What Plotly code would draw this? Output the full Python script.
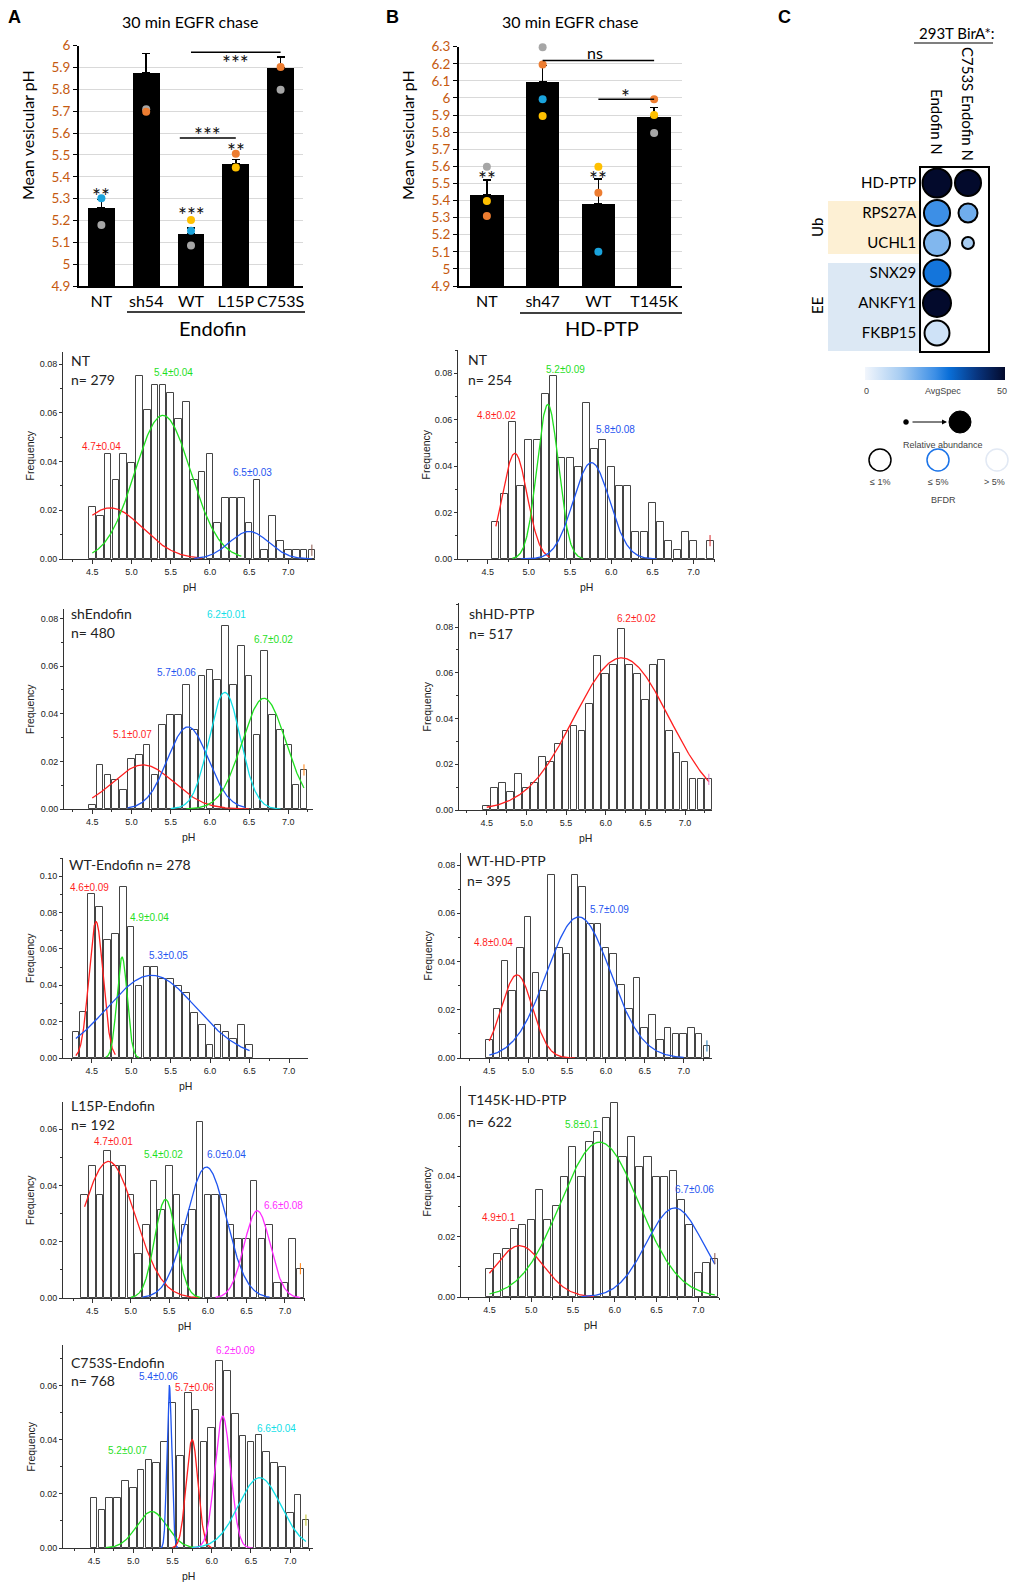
import numpy as np
import plotly.graph_objects as go

W, H = 1010, 1582
FC = "Lato"
FA = "Liberation Sans"

# ---------------- Panel A data ----------------
a_categories = ["NT", "sh54", "WT", "L15P", "C753S"]
a_means = [5.26, 5.875, 5.14, 5.46, 5.90]
a_err = [0.035, 0.09, 0.025, 0.02, 0.048]
a_rep_blue = [5.302, 6.004, 5.153, None, None]
a_rep_grey = [5.179, 5.709, 5.085, None, 5.798]
a_rep_orange = [None, 5.698, None, 5.505, 5.902]
a_rep_yellow = [None, None, 5.202, 5.442, 6.004]
a_yticks = [4.9, 5.0, 5.1, 5.2, 5.3, 5.4, 5.5, 5.6, 5.7, 5.8, 5.9, 6.0]

# ---------------- Panel B data ----------------
b_categories = ["NT", "sh47", "WT", "T145K"]
b_means = [5.435, 6.097, 5.379, 5.892]
b_err = [0.084, 0.093, 0.146, 0.051]
b_rep_grey = [5.597, 6.297, None, 5.795]
b_rep_yellow = [5.398, 5.894, 5.597, 5.90]
b_rep_orange = [5.309, 6.196, 5.445, 5.992]
b_rep_blue = [None, 5.992, 5.10, None]
b_yticks = [4.9, 5.0, 5.1, 5.2, 5.3, 5.4, 5.5, 5.6, 5.7, 5.8, 5.9, 6.0, 6.1, 6.2, 6.3]

# ---------------- Panel C data ----------------
c_proteins = ["HD-PTP", "RPS27A", "UCHL1", "SNX29", "ANKFY1", "FKBP15"]
c_baits = ["Endofin N", "C753S Endofin N"]
c_avgspec_endofin = [50, 25, 17, 29, 50, 6]
c_avgspec_c753s = [50, 19, 12.5, None, None, None]
c_relabund_endofin = [0.95, 0.82, 0.82, 0.86, 0.91, 0.77]
c_relabund_c753s = [0.82, 0.50, 0.18, None, None, None]

# ---------------- Histogram data (bin centres, frequency) ----------------
bins_45_73 = [4.5, 4.6, 4.7, 4.8, 4.9, 5.0, 5.1, 5.2, 5.3, 5.4, 5.5, 5.6, 5.7, 5.8, 5.9,
              6.0, 6.1, 6.2, 6.3, 6.4, 6.5, 6.6, 6.7, 6.8, 6.9, 7.0, 7.1, 7.2, 7.3]
bins_45_72 = [4.5, 4.6, 4.7, 4.8, 4.9, 5.0, 5.1, 5.2, 5.3, 5.4, 5.5, 5.6, 5.7, 5.8, 5.9,
              6.0, 6.1, 6.2, 6.3, 6.4, 6.5, 6.6, 6.7, 6.8, 6.9, 7.0, 7.1, 7.2]
bins_46_72 = [4.6, 4.7, 4.8, 4.9, 5.0, 5.1, 5.2, 5.3, 5.4, 5.5, 5.6, 5.7, 5.8, 5.9,
              6.0, 6.1, 6.2, 6.3, 6.4, 6.5, 6.6, 6.7, 6.8, 6.9, 7.0, 7.1, 7.2]
bins_43_65 = [4.3, 4.4, 4.5, 4.6, 4.7, 4.8, 4.9, 5.0, 5.1, 5.2, 5.3, 5.4, 5.5, 5.6, 5.7,
              5.8, 5.9, 6.0, 6.1, 6.2, 6.3, 6.4, 6.5]
bins_44_72 = [4.4, 4.5, 4.6, 4.7, 4.8, 4.9, 5.0, 5.1, 5.2, 5.3, 5.4, 5.5, 5.6, 5.7, 5.8,
              5.9, 6.0, 6.1, 6.2, 6.3, 6.4, 6.5, 6.6, 6.7, 6.8, 6.9, 7.0, 7.1, 7.2]

freq_nt_endofin = [0.0215, 0.0178, 0.043, 0.0323, 0.043, 0.0393, 0.0752, 0.061, 0.0715, 0.0715,
                   0.068, 0.0574, 0.0644, 0.0323, 0.0359, 0.043, 0.0147, 0.0252, 0.0252, 0.0252,
                   0.0147, 0.0323, 0.0036, 0.0178, 0.0073, 0.0036, 0.0036, 0.0036, 0.0036]
freq_sh_endofin = [0.0017, 0.0185, 0.0143, 0.0122, 0.0081, 0.0208, 0.0227, 0.0268, 0.0143, 0.0352,
                   0.0396, 0.0396, 0.0519, 0.0331, 0.056, 0.0582, 0.054, 0.0769, 0.0519, 0.0686,
                   0.056, 0.0312, 0.0665, 0.0396, 0.0331, 0.0268, 0.0102, 0.0164]
freq_wt_endofin = [0.0143, 0.0254, 0.0901, 0.0829, 0.0647, 0.0684, 0.0938, 0.0721, 0.0395, 0.0502,
                   0.0502, 0.0432, 0.0432, 0.0395, 0.0358, 0.025, 0.018, 0.0074, 0.018, 0.0143,
                   0.0107, 0.018, 0.0074]
freq_l15p_endofin = [0.0365, 0.0469, 0.0365, 0.0521, 0.0469, 0.0469, 0.0365, 0.0156, 0.026, 0.0417,
                     0.0313, 0.0469, 0.0365, 0.026, 0.0313, 0.0625, 0.0365, 0.0365, 0.0365, 0.026,
                     0.0208, 0.0208, 0.0417, 0.0208, 0.026, 0.0052, 0.0052, 0.0208, 0.0104]
freq_c753s_endofin = [0.0183, 0.0142, 0.0183, 0.0183, 0.0247, 0.0223, 0.0288, 0.0325, 0.0313, 0.0391,
                      0.0536, 0.034, 0.0573, 0.0511, 0.0391, 0.0443, 0.069, 0.0653, 0.0495, 0.0412,
                      0.0391, 0.0416, 0.0353, 0.0313, 0.0301, 0.013, 0.0195, 0.0103]
freq_nt_hdptp = [0.0161, 0.0279, 0.0589, 0.0316, 0.0513, 0.0513, 0.071, 0.0789, 0.0434, 0.0434,
                 0.0395, 0.0671, 0.0473, 0.0513, 0.0395, 0.0316, 0.0316, 0.0118, 0.0118, 0.024,
                 0.0161, 0.0079, 0.0039, 0.0118, 0.0079, 0.0, 0.0079]
freq_sh_hdptp = [0.0017, 0.0095, 0.0116, 0.0077, 0.0156, 0.0095, 0.0116, 0.023, 0.0211, 0.0288,
                 0.0346, 0.0367, 0.0346, 0.0465, 0.0673, 0.0596, 0.0636, 0.079, 0.0636, 0.0596,
                 0.0483, 0.0636, 0.0655, 0.0346, 0.025, 0.0211, 0.0134, 0.0134, 0.0134]
freq_wt_hdptp = [0.0076, 0.0203, 0.0404, 0.0278, 0.0456, 0.0583, 0.0354, 0.0278, 0.0758, 0.0456,
                 0.0431, 0.0758, 0.0708, 0.0556, 0.0556, 0.0456, 0.0431, 0.0303, 0.0203, 0.0331,
                 0.0125, 0.0178, 0.0076, 0.0125, 0.01, 0.01, 0.0125, 0.01, 0.005]
freq_t145k_hdptp = [0.0094, 0.0143, 0.016, 0.0224, 0.0239, 0.0256, 0.0353, 0.0256, 0.0303, 0.0399,
                    0.0498, 0.0399, 0.0515, 0.0546, 0.0594, 0.0642, 0.0465, 0.0529, 0.0432, 0.0465,
                    0.0399, 0.0399, 0.0418, 0.032, 0.0239, 0.0079, 0.0112, 0.0127]

# Gaussian fit parameters: (centre, sigma, amplitude, x-from, x-to)
fit_nt_endofin = [(4.73, 0.41, 0.021, 4.5, 5.9), (5.40, 0.357, 0.059, 4.5, 6.4), (6.50, 0.25, 0.0113, 5.8, 7.3)]
fit_sh_endofin = [(5.15, 0.39, 0.0185, 4.5, 6.5), (5.72, 0.26, 0.0345, 4.95, 6.45),
                  (6.19, 0.20, 0.049, 5.5, 6.9), (6.69, 0.28, 0.0465, 5.7, 7.2)]
fit_wt_endofin = [(4.555, 0.09, 0.075, 4.3, 4.8), (4.885, 0.065, 0.0555, 4.68, 5.1), (5.26, 0.565, 0.0455, 4.3, 6.5)]
fit_l15p_endofin = [(4.71, 0.345, 0.0485, 4.4, 5.9), (5.45, 0.14, 0.035, 5.0, 5.9),
                    (5.98, 0.26, 0.0465, 5.15, 6.8), (6.64, 0.17, 0.031, 6.1, 7.2)]
fit_c753s_endofin = [(5.235, 0.19, 0.0135, 4.65, 5.8), (5.46, 0.03, 0.06, 5.35, 5.57),
                     (5.75, 0.075, 0.04, 5.5, 6.0), (6.14, 0.10, 0.0487, 5.75, 6.52),
                     (6.61, 0.27, 0.026, 5.75, 7.2)]
fit_nt_hdptp = [(4.83, 0.15, 0.0455, 4.6, 5.25), (5.23, 0.13, 0.0665, 4.8, 5.66), (5.76, 0.22, 0.0415, 4.9, 6.55)]
fit_sh_hdptp = [(6.2, 0.6, 0.0665, 4.5, 7.3)]
fit_wt_hdptp = [(4.856, 0.2, 0.0345, 4.5, 5.6), (5.65, 0.41, 0.0585, 4.5, 7.0)]
fit_t145k_hdptp = [(4.86, 0.29, 0.017, 4.5, 5.75), (5.82, 0.47, 0.0513, 4.5, 7.2), (6.72, 0.34, 0.0295, 5.6, 7.2)]

fitlabel_nt_endofin = ["4.7±0.04", "5.4±0.04", "6.5±0.03"]
fitlabel_sh_endofin = ["5.1±0.07", "5.7±0.06", "6.2±0.01", "6.7±0.02"]
fitlabel_wt_endofin = ["4.6±0.09", "4.9±0.04", "5.3±0.05"]
fitlabel_l15p_endofin = ["4.7±0.01", "5.4±0.02", "6.0±0.04", "6.6±0.08"]
fitlabel_c753s_endofin = ["5.2±0.07", "5.4±0.06", "5.7±0.06", "6.2±0.09", "6.6±0.04"]
fitlabel_nt_hdptp = ["4.8±0.02", "5.2±0.09", "5.8±0.08"]
fitlabel_sh_hdptp = ["6.2±0.02"]
fitlabel_wt_hdptp = ["4.8±0.04", "5.7±0.09"]
fitlabel_t145k_hdptp = ["4.9±0.1", "5.8±0.1", "6.7±0.06"]

ph_ticks = [4.5, 5.0, 5.5, 6.0, 6.5, 7.0]

# ---------------- styles ----------------
RED, GREEN, BLUE, CYAN, MAG = "#ff1f1f", "#1fe01f", "#1f55f0", "#12e0e8", "#ff2cff"
C_BLUE, C_GREY, C_ORANGE, C_YELLOW = "#1aa3dc", "#a6a6a6", "#ed7d31", "#ffc000"

fig = go.Figure()
L = dict(width=W, height=H, template="none",
         margin=dict(l=0, r=0, t=0, b=0, pad=0, autoexpand=False), paper_bgcolor="white",
         plot_bgcolor="white", showlegend=False)
ann, shp = [], []


def px_x(p):
    return p / W


def px_y(p):
    return 1 - p / H


def names(n):
    return ("x", "y", "xaxis", "yaxis") if n == 1 else (f"x{n}", f"y{n}", f"xaxis{n}", f"yaxis{n}")


def text(x, y, s, size, color="black", family=FC, xref="paper", yref="paper", **kw):
    d = dict(x=x, y=y, text=s, showarrow=False, xref=xref, yref=yref, xanchor="center", yanchor="middle",
             font=dict(family=family, size=size, color=color))
    d.update(kw)
    ann.append(d)


def bar_panel(n, cats, means, errs, reps, box, yr, yticks):
    xa, ya, xk, yk = names(n)
    xs = list(range(len(cats)))
    fig.add_trace(go.Bar(x=xs, y=means, width=0.6, marker=dict(color="black", line=dict(width=0)),
                         error_y=dict(type="data", symmetric=False, array=errs,
                                      arrayminus=[0] * len(errs), color="black", thickness=1.5, width=4),
                         xaxis=xa, yaxis=ya))
    for col, vals in reps:
        fig.add_trace(go.Scatter(x=xs, y=vals, mode="markers", cliponaxis=False,
                                 marker=dict(color=col, size=8, line=dict(width=0)),
                                 xaxis=xa, yaxis=ya))
    x0, y0, x1, y1 = box
    L[xk] = dict(domain=[px_x(x0), px_x(x1)], anchor=ya, range=[-0.5, len(cats) - 0.5],
                 tickvals=xs, ticktext=cats, showline=True, linecolor="black", linewidth=2,
                 ticks="", showgrid=False, zeroline=False, automargin=False,
                 tickfont=dict(family=FC, size=16, color="black"))
    L[yk] = dict(domain=[px_y(y1), px_y(y0)], anchor=xa, range=yr, tickvals=yticks,
                 ticktext=[f"{v:g}" for v in yticks], showgrid=True, gridcolor="#d9d9d9",
                 gridwidth=1, showline=True, linecolor="black", linewidth=2, ticks="outside",
                 ticklen=4, tickcolor="black", zeroline=False, automargin=False,
                 tickfont=dict(family=FC, size=13.5, color="#c55a11"))


# ---------- Panel A ----------
bar_panel(1, a_categories, a_means, a_err,
          [(C_BLUE, a_rep_blue), (C_GREY, a_rep_grey), (C_ORANGE, a_rep_orange), (C_YELLOW, a_rep_yellow)],
          (79, 45.7, 303, 286), [4.9, 6.0], a_yticks)
# ---------- Panel B ----------
bar_panel(2, b_categories, b_means, b_err,
          [(C_GREY, b_rep_grey), (C_YELLOW, b_rep_yellow), (C_ORANGE, b_rep_orange), (C_BLUE, b_rep_blue)],
          (459, 46.7, 682, 286), [4.9, 6.3], b_yticks)

STAR = dict(family=FC, size=21, color="#111111")
for (x, y, s) in [(0, 5.337, "**"), (2, 5.251, "***"), (3, 5.543, "**"), (2.36, 5.615, "***")]:
    ann.append(dict(x=x, y=y, text=s, showarrow=False, xref="x", yref="y", font=STAR, yshift=-5))
# star above the C753S comparison sits above the axis top, so it is placed on the page
ann.append(dict(x=3.0, y=px_y(43.3), text="***", showarrow=False, xref="x", yref="paper", font=STAR, yshift=-5))
for (x, y, s) in [(0, 5.561, "**"), (2, 5.561, "**"), (2.49, 6.04, "*")]:
    ann.append(dict(x=x, y=y, text=s, showarrow=False, xref="x2", yref="y2", font=STAR, yshift=-5))
ann.append(dict(x=1.94, y=6.264, text="ns", showarrow=False, xref="x2", yref="y2",
                font=dict(family=FC, size=16, color="black")))
for (xr, yr, xa0, xa1, yv) in [("x", "y", 1.75, 3.0, 5.577), ("x", "y", 2.0, 4.0, 5.97),
                               ("x2", "y2", 1.0, 3.0, 6.219), ("x2", "y2", 2.0, 3.0, 5.992)]:
    shp.append(dict(type="line", xref=xr, yref=yr, x0=xa0, x1=xa1, y0=yv, y1=yv,
                    line=dict(color="black", width=1.5)))
# underlines & group labels
shp.append(dict(type="line", xref="paper", yref="paper", x0=px_x(127), x1=px_x(305), y0=px_y(312), y1=px_y(312),
                line=dict(color="black", width=1.5)))
shp.append(dict(type="line", xref="paper", yref="paper", x0=px_x(520), x1=px_x(682), y0=px_y(313), y1=px_y(313),
                line=dict(color="black", width=1.5)))
text(px_x(212), px_y(328), "Endofin", 20)
text(px_x(602), px_y(328), "HD-PTP", 20)
text(px_x(190), px_y(21), "30 min EGFR chase", 16)
text(px_x(570), px_y(21), "30 min EGFR chase", 16)
text(px_x(28), px_y(135), "Mean vesicular pH", 16, textangle=-90)
text(px_x(408), px_y(135), "Mean vesicular pH", 16, textangle=-90)
text(px_x(14), px_y(17), "<b>A</b>", 18, family=FA)
text(px_x(392), px_y(17), "<b>B</b>", 18, family=FA)
text(px_x(784), px_y(17), "<b>C</b>", 18, family=FA)

# ---------- Panel C ----------
cx, cy, cc, cs = [], [], [], []
for j, (spec, rel) in enumerate([(c_avgspec_endofin, c_relabund_endofin), (c_avgspec_c753s, c_relabund_c753s)]):
    for i, (v, r) in enumerate(zip(spec, rel)):
        if v is not None:
            cx.append(j)
            cy.append(i)
            cc.append(v)
            cs.append(8 + 22 * r)
cscale = [[0, "#f2f6fc"], [0.25, "#a8cdf2"], [0.5, "#3d8fe6"], [0.6, "#0a6fd8"], [0.8, "#08357f"], [1, "#030a2c"]]
fig.add_trace(go.Scatter(
    x=cx, y=cy, mode="markers", xaxis="x3", yaxis="y3", cliponaxis=False,
    marker=dict(size=cs, color=cc, colorscale=cscale, cmin=0, cmax=50, opacity=1,
                line=dict(color="black", width=2), showscale=True,
                colorbar=dict(orientation="h", x=px_x(935), xanchor="center", y=px_y(367), yanchor="top",
                              len=140, lenmode="pixels", thickness=13, thicknessmode="pixels",
                              xpad=0, ypad=0, outlinewidth=0, showticklabels=False, ticks=""))))
L["xaxis3"] = dict(domain=[px_x(921), px_x(988)], anchor="y3", range=[-0.516, 1.645], showgrid=False,
                   zeroline=False, showticklabels=False, ticks="", showline=True, mirror=True,
                   linecolor="black", linewidth=1.5, automargin=False)
L["yaxis3"] = dict(domain=[px_y(351), px_y(168)], anchor="x3", range=[5.6, -0.5], showgrid=False,
                   zeroline=False, tickvals=list(range(len(c_proteins))), ticktext=c_proteins, ticks="",
                   showline=True, mirror=True, linecolor="black", linewidth=1.5, automargin=False,
                   tickfont=dict(family=FC, size=15, color="black"))
shp.append(dict(type="rect", xref="paper", yref="paper", x0=px_x(828), x1=px_x(920), y0=px_y(254), y1=px_y(201),
                fillcolor="#fdf0d4", line=dict(width=0), layer="below"))
shp.append(dict(type="rect", xref="paper", yref="paper", x0=px_x(828), x1=px_x(920), y0=px_y(351), y1=px_y(263),
                fillcolor="#dce8f4", line=dict(width=0), layer="below"))
text(px_x(817), px_y(228), "Ub", 15, textangle=-90)
text(px_x(817), px_y(306), "EE", 15, textangle=-90)
for j, b in enumerate(c_baits):
    ann.append(dict(x=j, y=px_y(157 + 6 * j), xref="x3", yref="paper", text=b, showarrow=False, textangle=90,
                    xanchor="center", yanchor="bottom", font=dict(family=FC, size=15, color="black")))
text(px_x(957), px_y(33), "293T BirA*:", 15)
shp.append(dict(type="line", xref="paper", yref="paper", x0=px_x(914), x1=px_x(993), y0=px_y(43), y1=px_y(43),
                line=dict(color="black", width=1.2)))
text(px_x(866), px_y(391), "0", 9, color="#444", family=FA)
text(px_x(943), px_y(391), "AvgSpec", 9, color="#444", family=FA)
text(px_x(1002), px_y(391), "50", 9, color="#444", family=FA)


def circ(cxp, cyp, d, fill, lc, lw):
    shp.append(dict(type="circle", xref="paper", yref="paper", x0=px_x(cxp - d / 2), x1=px_x(cxp + d / 2),
                    y0=px_y(cyp + d / 2), y1=px_y(cyp - d / 2), fillcolor=fill, line=dict(color=lc, width=lw)))


circ(906, 422, 5, "black", "black", 0.5)
circ(960, 422, 22, "black", "black", 1)
ann.append(dict(x=px_x(947), y=px_y(422), ax=-36, ay=0, axref="pixel", ayref="pixel",
                xref="paper", yref="paper", text="", showarrow=True, arrowhead=2, arrowsize=1,
                arrowwidth=1, arrowcolor="black"))
text(px_x(943), px_y(445), "Relative abundance", 9, color="#444", family=FA)
circ(880, 460, 22, "white", "black", 1.5)
circ(938, 460, 22, "white", "#1a73e8", 1.5)
circ(997, 460, 22, "white", "#e2e9f4", 1.5)
text(px_x(880), px_y(482), "≤ 1%", 9, color="#444", family=FA)
text(px_x(938), px_y(482), "≤ 5%", 9, color="#444", family=FA)
text(px_x(994), px_y(482), "> 5%", 9, color="#444", family=FA)
text(px_x(943), px_y(500), "BFDR", 9, color="#444", family=FA)


# ---------- Histograms ----------
def hist_panel(n, box, xr, yr, yticks, bins, freqs, fits, fit_colors, fit_labels, label_pos,
               title_lines, title_pos, freq_x, show_ph=True, mark_last=True):
    xa, ya, xk, yk = names(n)
    fig.add_trace(go.Bar(x=bins, y=freqs, width=0.085,
                         marker=dict(color="white", line=dict(color="#444444", width=1)),
                         xaxis=xa, yaxis=ya))
    for (mu, sd, amp, a0, a1), col in zip(fits, fit_colors):
        xs = np.linspace(a0, a1, 240)
        ys = amp * np.exp(-((xs - mu) ** 2) / (2 * sd ** 2))
        fig.add_trace(go.Scatter(x=xs, y=ys, mode="lines", line=dict(color=col, width=1.3),
                                 xaxis=xa, yaxis=ya))
    if mark_last:
        fig.add_trace(go.Scatter(x=[bins[-1]], y=[freqs[-1]], mode="markers", cliponaxis=False,
                                 marker=dict(symbol="line-ns-open", size=8, line=dict(color=MAG, width=1)),
                                 xaxis=xa, yaxis=ya))
    for s, (lx, ly), col in zip(fit_labels, label_pos, fit_colors):
        ann.append(dict(x=lx, y=ly, xref=xa, yref=ya, text=s, showarrow=False,
                        font=dict(family=FA, size=10, color=col)))
    tx, ty = title_pos
    for k, t in enumerate(title_lines):
        ann.append(dict(x=tx, y=ty[k], xref=xa, yref=ya, text=t, showarrow=False, xanchor="left",
                        font=dict(family=FC, size=14, color="#222")))
    x0, y0, x1, y1 = box
    L[xk] = dict(domain=[px_x(x0), px_x(x1)], anchor=ya, range=xr, tickvals=ph_ticks,
                 ticktext=[f"{v:.1f}" for v in ph_ticks], showline=True, linecolor="#333", linewidth=1,
                 ticks="outside", ticklen=4, tickcolor="#333", showgrid=False, zeroline=False,
                 automargin=False,
                 minor=dict(ticks="outside", ticklen=2, tickcolor="#333",
                            tickvals=[4.25, 4.75, 5.25, 5.75, 6.25, 6.75, 7.25]),
                 tickfont=dict(family=FA, size=9, color="#222"))
    L[yk] = dict(domain=[px_y(y1), px_y(y0)], anchor=xa, range=yr, tickvals=yticks,
                 ticktext=[f"{v:.2f}" for v in yticks], showline=True, linecolor="#333", linewidth=1,
                 ticks="outside", ticklen=3, tickcolor="#333", showgrid=False, zeroline=False,
                 automargin=False,
                 minor=dict(ticks="outside", ticklen=2, tickcolor="#333", dtick=0.01, tick0=0),
                 tickfont=dict(family=FA, size=9, color="#222"))
    text(px_x(freq_x), px_y((y0 + y1) / 2), "Frequency", 10.5, color="#222", family=FA, textangle=-90)
    if show_ph:
        text(px_x((x0 + x1) / 2), px_y(y1 + 28), "pH", 10.5, color="#222", family=FA)


Y08 = [0, 0.02, 0.04, 0.06, 0.08]
Y06 = [0, 0.02, 0.04, 0.06]
Y10 = [0, 0.02, 0.04, 0.06, 0.08, 0.10]

hist_panel(4, (63, 352, 315, 559), [4.126, 7.34], [0, 0.085], Y08, bins_45_73, freq_nt_endofin,
           fit_nt_endofin, [RED, GREEN, BLUE], fitlabel_nt_endofin,
           [(4.62, 0.046), (5.53, 0.0766), (6.54, 0.0355)],
           ["NT", "n= 279"], (4.2, [0.0814, 0.0736]), 30)
hist_panel(5, (64, 609, 313, 809), [4.14, 7.315], [0, 0.084], Y08, bins_45_72, freq_sh_endofin,
           fit_sh_endofin, [RED, BLUE, CYAN, GREEN], fitlabel_sh_endofin,
           [(5.01, 0.0313), (5.58, 0.0575), (6.21, 0.0818), (6.81, 0.0713)],
           ["shEndofin", "n= 480"], (4.2, [0.0822, 0.0741]), 30)
hist_panel(6, (63, 858, 308, 1058), [4.137, 7.24], [0, 0.11], Y10, bins_43_65, freq_wt_endofin,
           fit_wt_endofin, [RED, GREEN, BLUE], fitlabel_wt_endofin,
           [(4.47, 0.0938), (5.235, 0.0772), (5.47, 0.0566)],
           ["WT-Endofin n= 278"], (4.19, [0.1066]), 30, mark_last=False)
hist_panel(7, (63, 1102, 305, 1298), [4.12, 7.26], [0, 0.0696], Y06, bins_44_72, freq_l15p_endofin,
           fit_l15p_endofin, [RED, GREEN, BLUE, MAG], fitlabel_l15p_endofin,
           [(4.77, 0.0556), (5.42, 0.0508), (6.24, 0.0508), (6.98, 0.033)],
           ["L15P-Endofin", "n= 192"], (4.2, [0.0683, 0.0615]), 30)
hist_panel(8, (63, 1345, 313, 1548), [4.105, 7.29], [0, 0.075], Y06, bins_45_72, freq_c753s_endofin,
           fit_c753s_endofin, [GREEN, BLUE, RED, MAG, CYAN], fitlabel_c753s_endofin,
           [(4.93, 0.036), (5.32, 0.0632), (5.78, 0.0594), (6.3, 0.0731), (6.82, 0.0443)],
           ["C753S-Endofin", "n= 768"], (4.18, [0.0687, 0.062]), 30)
hist_panel(9, (458, 350, 715, 559), [4.14, 7.26], [0, 0.09], Y08, bins_46_72, freq_nt_hdptp,
           fit_nt_hdptp, [RED, GREEN, BLUE], fitlabel_nt_hdptp,
           [(4.61, 0.0616), (5.45, 0.0817), (6.05, 0.0559)],
           ["NT", "n= 254"], (4.24, [0.0857, 0.0774]), 425)
hist_panel(10, (459, 603, 712, 810), [4.15, 7.34], [0, 0.0905], Y08, bins_45_73, freq_sh_hdptp,
           fit_sh_hdptp, [RED], fitlabel_sh_hdptp, [(6.39, 0.0836)],
           ["shHD-PTP", "n= 517"], (4.245, [0.0858, 0.077]), 426)
hist_panel(11, (461, 853, 712, 1058), [4.136, 7.365], [0, 0.085], Y08, bins_45_73, freq_wt_hdptp,
           fit_wt_hdptp, [RED, BLUE], fitlabel_wt_hdptp, [(4.556, 0.048), (6.05, 0.0615)],
           ["WT-HD-PTP", "n= 395"], (4.19, [0.082, 0.0736]), 427, show_ph=False)
hist_panel(12, (461, 1086, 719, 1297), [4.16, 7.25], [0, 0.0699], Y06, bins_45_72, freq_t145k_hdptp,
           fit_t145k_hdptp, [RED, GREEN, BLUE], fitlabel_t145k_hdptp,
           [(4.62, 0.0265), (5.61, 0.0572), (6.96, 0.0357)],
           ["T145K-HD-PTP", "n= 622"], (4.22, [0.0653, 0.0581]), 426)

L["annotations"] = ann
L["shapes"] = shp
L["bargap"] = 0
fig.update_layout(**L)
fig.write_html("out.html", config={"displayModeBar": False},
               post_script="document.body.style.margin='0px';")
